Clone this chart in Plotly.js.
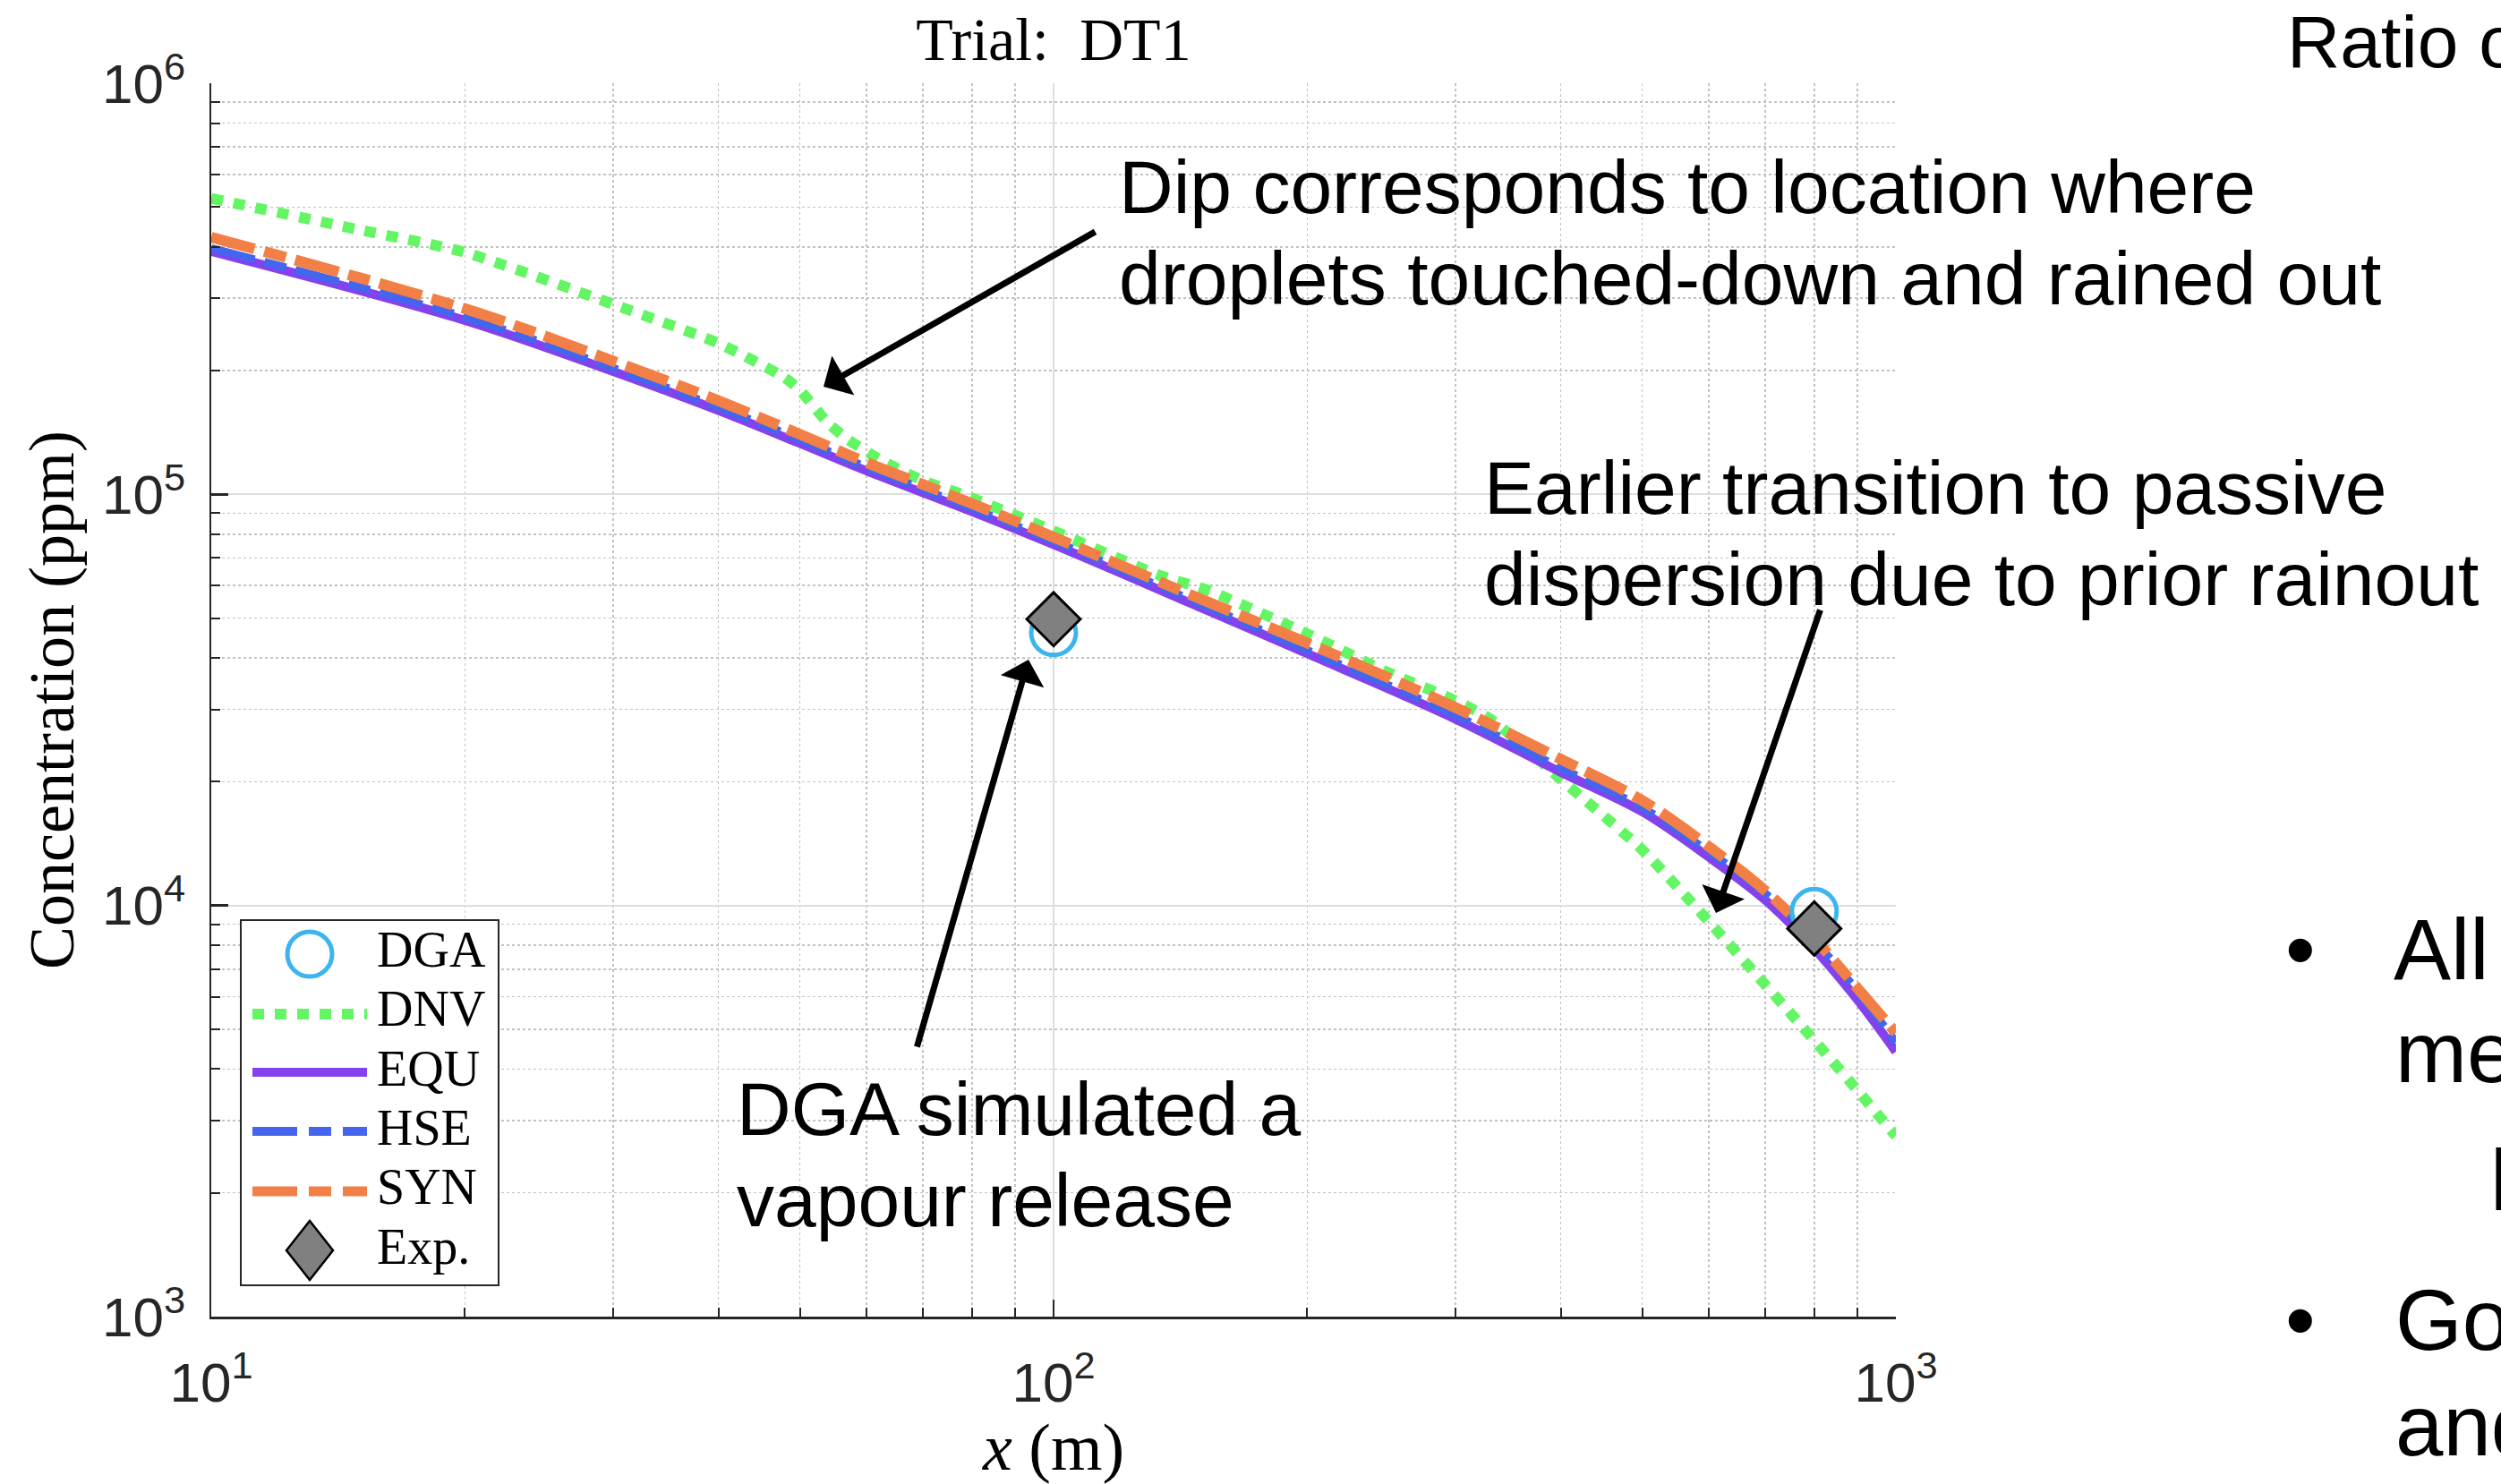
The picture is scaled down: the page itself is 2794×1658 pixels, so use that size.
<!DOCTYPE html>
<html><head><meta charset="utf-8">
<script src="https://cdn.plot.ly/plotly-3.0.1.min.js"></script>
<style>html,body{margin:0;padding:0;overflow:hidden;background:#fff}#chart{width:2794px;height:1658px}</style>
</head><body><div id="chart"></div>
<script>
// ---- data ----
const xModel = [10, 20, 30, 40, 50, 60, 80, 100, 150, 200, 300, 400, 500, 600, 700, 800, 900, 1000];
const equ = [3.90e5, 2.65e5, 1.99e5, 1.60e5, 1.33e5, 1.14e5, 9.08e4, 7.55e4, 5.29e4, 4.10e4, 2.84e4, 2.11e4, 1.69e4, 1.31e4, 1.03e4, 7.85e3, 5.90e3, 4.41e3];
const hse = [3.97e5, 2.70e5, 2.03e5, 1.63e5, 1.36e5, 1.165e5, 9.25e4, 7.70e4, 5.40e4, 4.18e4, 2.90e4, 2.16e4, 1.73e4, 1.35e4, 1.07e4, 8.2e3, 6.2e3, 4.65e3];
const syn = [4.22e5, 2.83e5, 2.11e5, 1.69e5, 1.40e5, 1.195e5, 9.5e4, 7.87e4, 5.55e4, 4.35e4, 3.03e4, 2.27e4, 1.80e4, 1.39e4, 1.085e4, 8.3e3, 6.3e3, 4.9e3];
const xDNV = [10, 15, 20, 30, 40, 48, 50, 54, 57, 62, 70, 78, 100, 134, 153, 202, 248, 301, 332, 401, 501, 616, 752, 882, 1000];
const dnv = [5.25e5, 4.40e5, 3.88e5, 2.90e5, 2.33e5, 1.92e5, 1.79e5, 1.49e5, 1.36e5, 1.22e5, 1.08e5, 1.0e5, 8.15e4, 6.34e4, 5.83e4, 4.54e4, 3.71e4, 3.14e4, 2.82e4, 2.02e4, 1.36e4, 8.6e3, 5.43e3, 3.73e3, 2.75e3];
const xDGA = [100, 800];
const dga = [4.61e4, 9.67e3];
const xExp = [100, 800];
const expv = [4.97e4, 8.79e3];
const xTickVals = [10, 100, 1000];
const xTickText = ['10<sup>1</sup>', '10<sup>2</sup>', '10<sup>3</sup>'];
const yTickVals = [1e3, 1e4, 1e5, 1e6];
const yTickText = ['10<sup>3</sup>', '10<sup>4</sup>', '10<sup>5</sup>', '10<sup>6</sup>'];
const legendNames = ['DGA', 'DNV', 'EQU', 'HSE', 'SYN', 'Exp.'];

// ---- styles ----
const C = {dga: '#3db4ee', dnv: '#64f564', equ: '#8441ee', hse: '#4466ef', syn: '#f28046', exp: '#808080'};
const dashPat = '50px,11px,25px,11px';
const dotPat = '13px,12px';
const SANS = 'Liberation Sans, Arial, Helvetica, sans-serif';
const SERIF = 'Liberation Serif, Times New Roman, serif';
const AX = '#262626';

function minorVals(decStart, decEnd) {
  const v = [];
  for (let d = decStart; d < decEnd; d++) for (let k = 2; k <= 9; k++) v.push(k * Math.pow(10, d));
  return v;
}

// plot area geometry (px)
const L = 236, T = 93, W = 1882, H = 1378;
const px = X => (X - L) / W;
const py = Y => (T + H - Y) / H;

const SM = 1.0;
const traces = [
  {name: 'DNV', x: xDNV, y: dnv, mode: 'lines', line: {color: C.dnv, width: 12, dash: dotPat, shape: 'spline', smoothing: 0.6}},
  {name: 'EQU', x: xModel, y: equ, mode: 'lines', line: {color: C.equ, width: 10, shape: 'spline', smoothing: SM}},
  {name: 'HSE', x: xModel, y: hse, mode: 'lines', line: {color: C.hse, width: 9, dash: dashPat, shape: 'spline', smoothing: SM}},
  {name: 'SYN', x: xModel, y: syn, mode: 'lines', line: {color: C.syn, width: 12, dash: dashPat, shape: 'spline', smoothing: SM}},
  {name: 'DGA', x: xDGA, y: dga, mode: 'markers', marker: {symbol: 'circle-open', size: 50, color: C.dga, line: {color: C.dga, width: 5}}},
  {name: 'Exp.', x: xExp, y: expv, mode: 'markers', marker: {symbol: 'diamond', size: 46, color: C.exp, line: {color: '#000', width: 3}}}
];

function text(t, X, Ymid, size, family, extra) {
  return Object.assign({xref: 'paper', yref: 'paper', x: px(X), y: py(Ymid), xanchor: 'left', yanchor: 'middle',
    text: t, showarrow: false, font: {family: family, size: size, color: '#000'}}, extra || {});
}
function arrow(tailX, tailY, tipX, tipY) {
  return {xref: 'paper', yref: 'paper', x: px(tipX), y: py(tipY), ax: tailX - tipX, ay: tailY - tipY,
    axref: 'pixel', ayref: 'pixel', text: '', showarrow: true, arrowhead: 1, arrowsize: 1.2, arrowwidth: 7, arrowcolor: '#000'};
}

const ann = [
  text('Dip corresponds to location where', 1248, 209, 84, SANS),
  text('droplets touched-down and rained out', 1248, 311, 84, SANS),
  text('Earlier transition to passive', 1656, 545, 84, SANS),
  text('dispersion due to prior rainout', 1656, 647, 84, SANS),
  text('DGA simulated a', 821, 1239, 84, SANS),
  text('vapour release', 821, 1341, 84, SANS),
  text('Ratio o', 2553, 46, 82, SANS),
  text('•', 2551, 1060, 96, SANS),
  text('All', 2672, 1060, 96, SANS),
  text('me', 2674, 1175, 96, SANS),
  text('l', 2780, 1318, 96, SANS),
  text('•', 2551, 1474, 96, SANS),
  text('Go', 2674, 1474, 96, SANS),
  text('and', 2674, 1592, 96, SANS),
  arrow(1225, 258, 920, 432),
  arrow(1024, 1171, 1149, 737),
  arrow(2034, 680, 1917, 1020)
];

// custom legend (MATLAB style long samples)
const legRows = [1061, 1127, 1194, 1260, 1326, 1393];
const sampleY = [1066, 1133, 1198, 1264, 1331, 1397];
const shapes = [
  {type: 'rect', xref: 'paper', yref: 'paper', x0: px(269), x1: px(557), y0: py(1436), y1: py(1028), fillcolor: '#fff', line: {color: AX, width: 2}, layer: 'above'},
  {type: 'circle', xref: 'paper', yref: 'paper', xsizemode: 'pixel', ysizemode: 'pixel', xanchor: px(346), yanchor: py(sampleY[0]),
    x0: -25, x1: 25, y0: -25, y1: 25, line: {color: C.dga, width: 5}, layer: 'above'},
  {type: 'line', xref: 'paper', yref: 'paper', x0: px(282), x1: px(410), y0: py(sampleY[1]), y1: py(sampleY[1]), line: {color: C.dnv, width: 12, dash: dotPat}, layer: 'above'},
  {type: 'line', xref: 'paper', yref: 'paper', x0: px(282), x1: px(410), y0: py(sampleY[2]), y1: py(sampleY[2]), line: {color: C.equ, width: 10}, layer: 'above'},
  {type: 'line', xref: 'paper', yref: 'paper', x0: px(282), x1: px(410), y0: py(sampleY[3]), y1: py(sampleY[3]), line: {color: C.hse, width: 10, dash: '50px,13px,25px,13px'}, layer: 'above'},
  {type: 'line', xref: 'paper', yref: 'paper', x0: px(282), x1: px(410), y0: py(sampleY[4]), y1: py(sampleY[4]), line: {color: C.syn, width: 11, dash: '50px,13px,25px,13px'}, layer: 'above'},
  {type: 'path', xref: 'paper', yref: 'paper', xsizemode: 'pixel', ysizemode: 'pixel', xanchor: px(346), yanchor: py(sampleY[5]),
    path: 'M0,-33 L26,0 L0,33 L-26,0 Z', fillcolor: C.exp, line: {color: '#000', width: 2.5}, layer: 'above'}
];
legendNames.forEach((n, i) => ann.push(text(n, 419, legRows[i], 56, SERIF)));

const layout = {
  width: 2794, height: 1658,
  margin: {l: L, r: 2794 - L - W, t: T, b: 1658 - T - H, pad: 0},
  paper_bgcolor: '#fff', plot_bgcolor: '#fff',
  showlegend: false,
  title: {text: 'Trial:  DT1', xref: 'paper', x: 0.5, xanchor: 'center', yref: 'container', y: 1 - 43 / 1658, yanchor: 'middle',
    font: {family: SERIF, size: 68, color: '#000'}},
  xaxis: {
    type: 'log', range: [1, 3], tickmode: 'array', tickvals: xTickVals, ticktext: xTickText,
    ticks: 'inside', ticklen: 19, tickwidth: 2.5, tickcolor: AX, ticklabelstandoff: 18,
    showline: true, linecolor: AX, linewidth: 2.5, zeroline: false,
    showgrid: true, gridcolor: '#dedede', gridwidth: 2,
    tickfont: {family: SANS, size: 62, color: AX},
    minor: {tickmode: 'array', tickvals: minorVals(1, 3), ticks: 'inside', ticklen: 10, tickwidth: 2, tickcolor: AX,
      showgrid: true, gridcolor: '#c2c2c2', gridwidth: 1.5, griddash: 'dot'},
    title: {text: '<i>x</i> (m)', font: {family: SERIF, size: 74, color: '#000'}, standoff: 12},
    automargin: false
  },
  yaxis: {
    type: 'log', range: [3, 6], tickmode: 'array', tickvals: yTickVals, ticktext: yTickText,
    ticks: 'inside', ticklen: 19, tickwidth: 2.5, tickcolor: AX, ticklabelstandoff: 14,
    showline: true, linecolor: AX, linewidth: 2.5, zeroline: false,
    showgrid: true, gridcolor: '#dedede', gridwidth: 2,
    tickfont: {family: SANS, size: 62, color: AX},
    minor: {tickmode: 'array', tickvals: minorVals(3, 6), ticks: 'inside', ticklen: 10, tickwidth: 2, tickcolor: AX,
      showgrid: true, gridcolor: '#c2c2c2', gridwidth: 1.5, griddash: 'dot'},
    title: {text: 'Concentration (ppm)', font: {family: SERIF, size: 72, color: '#000'}, standoff: 8},
    automargin: false
  },
  annotations: ann,
  shapes: shapes
};

Plotly.newPlot('chart', traces, layout, {displayModeBar: false, staticPlot: true});
</script>
</body></html>
